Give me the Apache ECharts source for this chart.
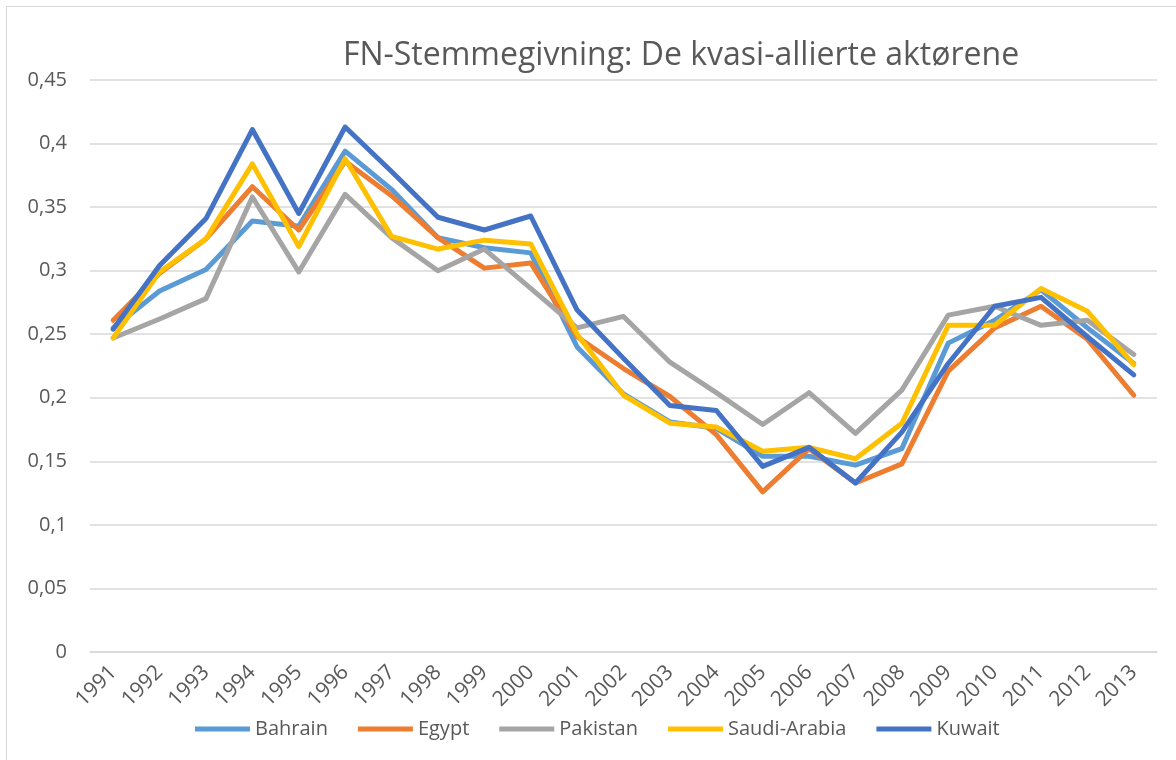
<!DOCTYPE html>
<html>
<head>
<meta charset="utf-8">
<script src="https://cdn.jsdelivr.net/npm/echarts@6/dist/echarts.min.js"></script>
<style>
  html, body { margin: 0; padding: 0; background: #fff; overflow: hidden; }
  #frame { position: absolute; left: 6px; top: 6px; width: 1200px; height: 800px; border: 1.5px solid #d9d9d9; }
  #chart { position: absolute; left: 0; top: 0; width: 1176px; height: 760px; }
</style>
</head>
<body>
<div id="frame"></div>
<div id="chart"></div>
<script>
// årstall
const years = ['1991','1992','1993','1994','1995','1996','1997','1998','1999','2000','2001','2002',
  '2003','2004','2005','2006','2007','2008','2009','2010','2011','2012','2013'];

// verdier lest av figuren
const bahrain = [0.255, 0.284, 0.301, 0.339, 0.335, 0.394, 0.364, 0.326, 0.318, 0.314, 0.240, 0.203,
  0.181, 0.176, 0.154, 0.154, 0.147, 0.160, 0.243, 0.261, 0.285, 0.255, 0.227];
const egypt = [0.261, 0.298, 0.325, 0.366, 0.332, 0.386, 0.359, 0.326, 0.302, 0.306, 0.248, 0.223,
  0.201, 0.171, 0.126, 0.160, 0.133, 0.148, 0.221, 0.255, 0.272, 0.246, 0.202];
const pakistan = [0.247, 0.262, 0.278, 0.358, 0.299, 0.360, 0.326, 0.300, 0.317, 0.286, 0.255, 0.264,
  0.228, 0.204, 0.179, 0.204, 0.172, 0.206, 0.265, 0.272, 0.257, 0.261, 0.234];
const saudi = [0.247, 0.299, 0.325, 0.384, 0.319, 0.388, 0.327, 0.317, 0.324, 0.321, 0.250, 0.202,
  0.180, 0.177, 0.158, 0.161, 0.152, 0.180, 0.257, 0.257, 0.286, 0.268, 0.226];
const kuwait = [0.254, 0.304, 0.341, 0.411, 0.345, 0.413, 0.378, 0.342, 0.332, 0.343, 0.269, 0.231,
  0.194, 0.190, 0.146, 0.161, 0.133, 0.173, 0.227, 0.272, 0.279, 0.248, 0.218];

const seriesNames = ['Bahrain', 'Egypt', 'Pakistan', 'Saudi-Arabia', 'Kuwait'];
const seriesData = [bahrain, egypt, pakistan, saudi, kuwait];
const colors = ['#5B9BD5', '#ED7D31', '#A5A5A5', '#FFC000', '#4472C4'];

const font = '"Open Sans", "Noto Sans", sans-serif';
const chart = echarts.init(document.getElementById('chart'));

chart.setOption({
  animation: false,
  textStyle: { fontFamily: font },
  title: {
    text: 'FN-Stemmegivning: De kvasi-allierte aktørene',
    left: 676, top: 35, textAlign: 'center',
    textStyle: { fontFamily: font, fontSize: 32, fontWeight: 'normal', color: '#595959' }
  },
  legend: {
    data: seriesNames,
    left: 190, top: 714,
    itemWidth: 55, itemHeight: 5, itemGap: 30,
    icon: 'rect',
    textStyle: { fontFamily: font, fontSize: 20, color: '#595959', padding: [0, 0, 0, 0] }
  },
  grid: { left: 90, right: 19, top: 80, bottom: 108 },
  xAxis: {
    type: 'category', data: years, boundaryGap: true,
    axisLine: { show: true, lineStyle: { color: '#d9d9d9', width: 1.5 } },
    axisTick: { show: false },
    axisLabel: { rotate: 45, fontFamily: font, fontSize: 21, color: '#595959', margin: 17, interval: 0 }
  },
  yAxis: {
    type: 'value', min: 0, max: 0.45, interval: 0.05,
    axisLine: { show: false }, axisTick: { show: false },
    axisLabel: {
      fontFamily: font, fontSize: 20, color: '#595959', margin: 23,
      formatter: v => String(+v.toFixed(2)).replace('.', ',')
    },
    splitLine: { lineStyle: { color: '#d9d9d9', width: 1.5 } }
  },
  series: seriesNames.map((name, i) => ({
    name, type: 'line', data: seriesData[i],
    showSymbol: false, symbol: 'none',
    lineStyle: { width: 5, color: colors[i], cap: 'round', join: 'round' },
    itemStyle: { color: colors[i] }
  }))
});
</script>
</body>
</html>
